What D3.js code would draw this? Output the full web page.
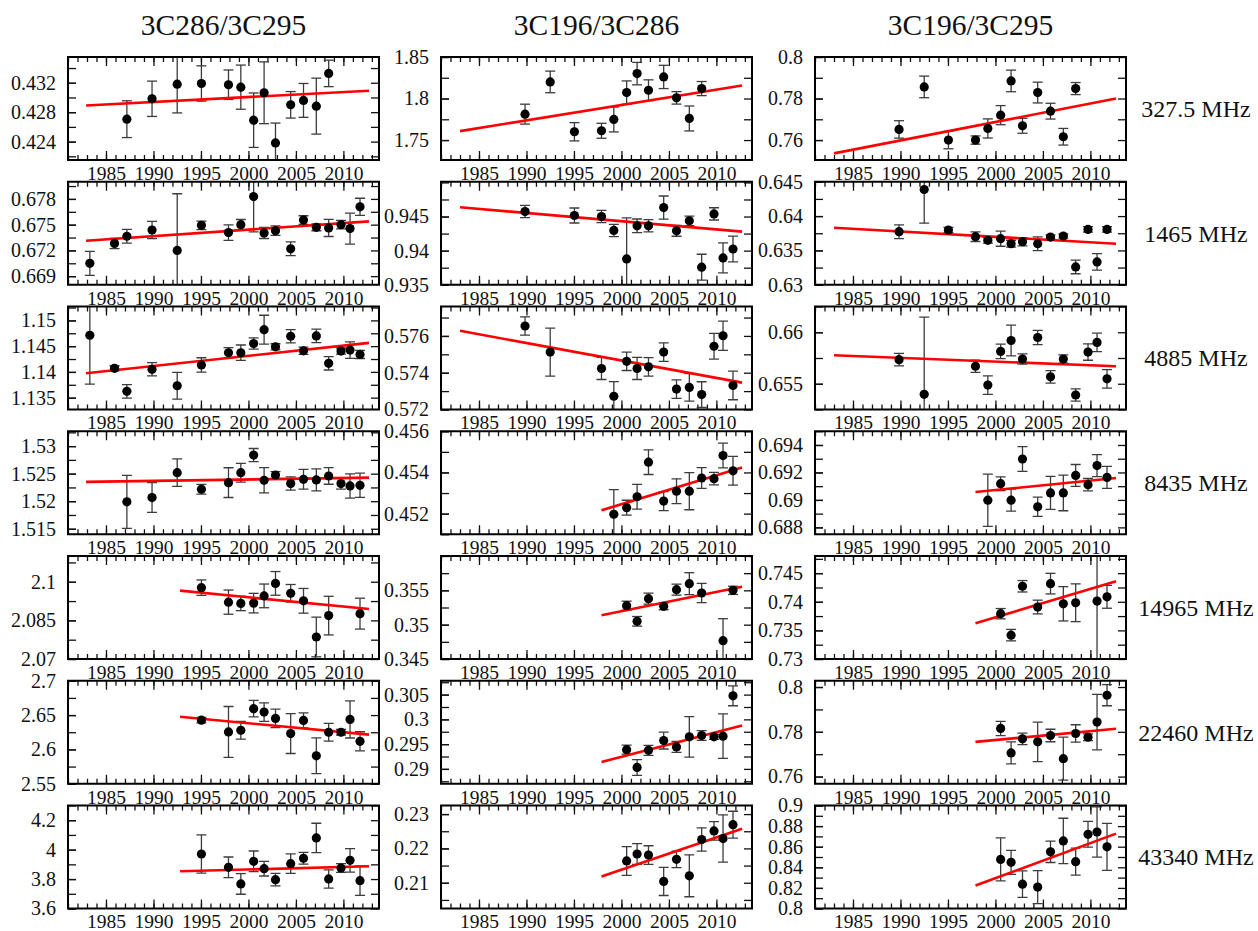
<!DOCTYPE html>
<html>
<head>
<meta charset="utf-8">
<script src="https://cdn.jsdelivr.net/npm/d3@7"></script>
<style>
  body { margin: 0; background: #fff; }
  svg { display: block; }
</style>
</head>
<body>
<script>
// Observing epochs (decimal year) shared by all panels
const epochs = [1983.3, 1985.9, 1987.2, 1989.85, 1992.5, 1995.05, 1997.9, 1999.2, 2000.55,
                2001.65, 2002.85, 2004.45, 2005.8, 2007.15, 2008.45, 2009.75, 2010.7, 2011.75];

const ratioNames = ["3C286/3C295", "3C196/3C286", "3C196/3C295"];
const freqLabels = ["327.5 MHz", "1465 MHz", "4885 MHz", "8435 MHz", "14965 MHz", "22460 MHz", "43340 MHz"];

const N = null;
// Flux density ratios, one row per frequency, one entry per epoch
const ratio286_295 = [
  [N, N, 0.42705, 0.42982, 0.4318, 0.4319, 0.43173, 0.4314, 0.42691, 0.43064, 0.42382, 0.429, 0.4296, 0.42882, 0.43327, N, N, N],
  [0.6705, 0.67281, 0.67365, 0.67438, 0.672, 0.67492, 0.67408, 0.675, 0.67827, 0.67404, 0.6743, 0.67219, 0.67554, 0.67469, 0.67462, 0.675, 0.67454, 0.67708],
  [1.14712, 1.1407, 1.13622, 1.14051, 1.13731, 1.14135, 1.14372, 1.14372, 1.14551, 1.1482, 1.14487, 1.14692, 1.1441, 1.14699, 1.14167, 1.14404, 1.14423, 1.1434],
  [N, N, 1.51988, 1.52066, 1.52518, 1.52217, 1.52337, 1.52518, 1.52837, 1.5238, 1.52476, 1.5232, 1.52398, 1.52386, 1.52458, 1.5232, 1.52277, 1.52289],
  [N, N, N, N, N, 2.0977, 2.09208, 2.09157, 2.0917, 2.09451, 2.09936, 2.09553, 2.0926, 2.07855, 2.08685, N, N, 2.08762],
  [N, N, N, N, N, 2.64265, 2.6255, 2.62794, 2.65931, 2.65441, 2.6451, 2.62304, 2.64216, 2.59069, 2.625, 2.625, 2.64363, 2.61176],
  [N, N, N, N, N, 3.97055, 3.88, 3.7667, 3.9207, 3.8709, 3.7962, 3.9049, 3.9411, 4.0793, 3.8007, 3.8754, 3.9275, 3.7894]
];
const err286_295 = [
  [N, N, 0.0025, 0.0024, 0.0039, 0.0024, 0.002, 0.003, 0.0037, 0.0042, 0.0027, 0.0018, 0.0023, 0.0038, 0.0018, N, N, N],
  [0.0014, 0.0006, 0.0008, 0.001, 0.0066, 0.0005, 0.0009, 0.0006, 0.0041, 0.00065, 0.00055, 0.0008, 0.0005, 0.0004, 0.001, 0.0005, 0.0018, 0.001],
  [0.0095, 0.0005, 0.0013, 0.0013, 0.0026, 0.0014, 0.001, 0.0015, 0.0011, 0.0028, 0.0006, 0.0013, 0.0007, 0.0013, 0.0013, 0.0006, 0.0016, 0.0008],
  [N, N, 0.0048, 0.0027, 0.0025, 0.0009, 0.0027, 0.0017, 0.0012, 0.0023, 0.0006, 0.0012, 0.0018, 0.002, 0.0015, 0.001, 0.0022, 0.0022],
  [N, N, N, N, N, 0.003, 0.0047, 0.0028, 0.0038, 0.0046, 0.0046, 0.0034, 0.0048, 0.0077, 0.0075, N, N, 0.006],
  [N, N, N, N, N, 0.004, 0.037, 0.013, 0.012, 0.0135, 0.0135, 0.029, 0.011, 0.026, 0.013, 0.004, 0.027, 0.014],
  [N, N, N, N, N, 0.13, 0.07, 0.07, 0.07, 0.05, 0.043, 0.066, 0.04, 0.1, 0.062, 0.03, 0.08, 0.1]
];

const ratio196_286 = [
  [N, N, N, 1.7812, 1.82, 1.76, 1.7612, 1.7748, 1.8072, 1.83, 1.81, 1.826, 1.8008, 1.776, 1.812, N, N, N],
  [N, N, N, 0.94573, N, 0.94515, 0.945, 0.94296, 0.93879, 0.94364, 0.94364, 0.94631, 0.94291, 0.94437, 0.93757, 0.94539, 0.93893, 0.94024],
  [N, N, N, 0.57654, 0.57512, N, 0.57423, 0.57272, 0.57462, 0.57423, 0.57432, 0.57512, 0.57311, 0.5732, 0.57281, 0.57544, 0.57601, 0.57331],
  [N, N, N, N, N, N, N, 0.45197, 0.45229, 0.45282, 0.4545, 0.45261, 0.45309, 0.45309, 0.45373, 0.4537, 0.45482, 0.45408],
  [N, N, N, N, N, N, N, N, 0.35277, 0.35049, 0.35379, 0.35267, 0.3551, 0.35597, 0.35461, N, 0.34767, 0.355],
  [N, N, N, N, N, N, N, N, 0.29389, 0.29029, 0.29375, 0.29572, 0.29443, 0.29647, 0.29674, 0.29647, 0.29661, 0.30475],
  [N, N, N, N, N, N, N, N, 0.21635, 0.21837, 0.21808, 0.21038, 0.21683, 0.21202, 0.2226, 0.2251, 0.22288, 0.22692]
];
const err196_286 = [
  [N, N, N, 0.012, 0.013, 0.011, 0.009, 0.015, 0.014, 0.0135, 0.0125, 0.014, 0.0075, 0.015, 0.0085, N, N, N],
  [N, N, N, 0.0009, N, 0.0011, 0.0009, 0.0009, 0.006, 0.001, 0.0009, 0.0017, 0.0008, 0.0007, 0.0019, 0.0009, 0.0022, 0.0019],
  [N, N, N, 0.0005, 0.0013, N, 0.0006, 0.0008, 0.0005, 0.0006, 0.0005, 0.0005, 0.0005, 0.00075, 0.0007, 0.0007, 0.0008, 0.00078],
  [N, N, N, N, N, N, N, 0.0012, 0.00036, 0.0006, 0.0006, 0.00046, 0.0006, 0.0009, 0.0005, 0.0003, 0.0006, 0.0007],
  [N, N, N, N, N, N, N, N, 0.00065, 0.0007, 0.0008, 0.0005, 0.0008, 0.0016, 0.0014, N, 0.0032, 0.0006],
  [N, N, N, N, N, N, N, N, 0.0009, 0.0016, 0.001, 0.0017, 0.0011, 0.0041, 0.001, 0.0005, 0.0045, 0.002],
  [N, N, N, N, N, N, N, N, 0.0042, 0.003, 0.0027, 0.0041, 0.0024, 0.0061, 0.0034, 0.0027, 0.0069, 0.0039]
];

const ratio196_295 = [
  [N, N, N, 0.76512, 0.7856, 0.76, 0.76, 0.7656, 0.772, 0.78848, 0.76688, 0.78288, 0.77392, 0.7616, 0.7848, N, N, N],
  [N, N, N, 0.63773, 0.64387, 0.63797, 0.637, 0.63647, 0.63671, 0.63598, 0.63627, 0.63598, 0.63695, 0.6371, 0.6326, 0.63806, 0.63332, 0.63806],
  [N, N, N, 0.65734, 0.65397, N, 0.6567, 0.65487, 0.65814, 0.6592, 0.6574, 0.65949, 0.65567, 0.6574, 0.65391, 0.65808, 0.65901, 0.65548],
  [N, N, N, N, N, N, N, 0.68998, 0.69118, 0.68998, 0.69298, 0.6895, 0.69051, 0.69051, 0.69178, 0.69111, 0.6925, 0.69164],
  [N, N, N, N, N, N, N, N, 0.73792, 0.73417, 0.74271, 0.73908, 0.74317, 0.73965, 0.73983, N, 0.74012, 0.74087],
  [N, N, N, N, N, N, N, N, 0.7815, 0.77056, 0.77685, 0.77551, 0.77835, 0.76801, 0.77925, 0.7776, 0.78434, 0.79633],
  [N, N, N, N, N, N, N, N, 0.84769, 0.84481, 0.82365, 0.82077, 0.85506, 0.86564, 0.84545, 0.87205, 0.87429, 0.85987]
];
const err196_295 = [
  [N, N, N, 0.0042, 0.0052, 0.0042, 0.002, 0.0046, 0.0046, 0.0052, 0.0036, 0.005, 0.0038, 0.004, 0.0029, N, N, N],
  [N, N, N, 0.001, 0.0049, 0.0004, 0.0007, 0.0004, 0.0011, 0.0005, 0.0006, 0.001, 0.0003, 0.0003, 0.001, 0.0004, 0.0012, 0.0004],
  [N, N, N, 0.0006, 0.0075, N, 0.0006, 0.0009, 0.0007, 0.0015, 0.0005, 0.0007, 0.0006, 0.0004, 0.0006, 0.0008, 0.0009, 0.0009],
  [N, N, N, N, N, N, N, 0.0019, 0.0005, 0.0008, 0.0009, 0.0007, 0.0012, 0.0013, 0.0008, 0.00045, 0.0008, 0.0008],
  [N, N, N, N, N, N, N, N, 0.0009, 0.001, 0.001, 0.0012, 0.0018, 0.003, 0.0033, N, 0.012, 0.002],
  [N, N, N, N, N, N, N, N, 0.0032, 0.0049, 0.0026, 0.0088, 0.0028, 0.0096, 0.0039, 0.0015, 0.0124, 0.0047],
  [N, N, N, N, N, N, N, N, 0.0208, 0.0117, 0.0128, 0.016, 0.0104, 0.022, 0.0131, 0.0125, 0.0244, 0.0228]
];

// Linear fits: [start year, start ratio, end year, end ratio]
const fit286_295 = [
  [1982.9, 0.42891, 2012.7, 0.43091],
  [1982.9, 0.67312, 2012.7, 0.67538],
  [1982.9, 1.13974, 2012.7, 1.14564],
  [1982.9, 1.5235, 2012.7, 1.52428],
  [1992.8, 2.09655, 2012.7, 2.0894],
  [1992.8, 2.64755, 2012.7, 2.62157],
  [1992.8, 3.8528, 2012.7, 3.8868]
];
const fit196_286 = [
  [1983, 1.7608, 2012.7, 1.8156],
  [1983, 0.94636, 2012.7, 0.94279],
  [1983, 0.57628, 2012.7, 0.57346],
  [1997.9, 0.45216, 2012.7, 0.45424],
  [1997.9, 0.35136, 2012.7, 0.35551],
  [1997.9, 0.29138, 2012.7, 0.29876],
  [1997.9, 0.21183, 2012.7, 0.22571]
];
const fit196_295 = [
  [1983, 0.7536, 2012.7, 0.78],
  [1983, 0.63831, 2012.7, 0.63598],
  [1983, 0.65776, 2012.7, 0.6567],
  [1997.9, 0.69058, 2012.7, 0.69159],
  [1997.9, 0.73625, 2012.7, 0.74358],
  [1997.9, 0.77551, 2012.7, 0.78135],
  [1997.9, 0.82237, 2012.7, 0.87269]
];

// Y ranges, labelled ticks and minor tick step per panel
const yRange286_295 = [[0.4215, 0.4355], [0.668, 0.680], [1.1327, 1.1527], [1.514, 1.5327], [2.07, 2.11], [2.55, 2.70], [3.6, 4.3]];
const yTicks286_295 = [[0.424, 0.428, 0.432], [0.669, 0.672, 0.675, 0.678], [1.135, 1.14, 1.145, 1.15], [1.515, 1.52, 1.525, 1.53], [2.07, 2.085, 2.1], [2.55, 2.6, 2.65, 2.7], [3.6, 3.8, 4, 4.2]];
const yStep286_295 = [0.002, 0.0015, 0.0025, 0.0025, 0.0075, 0.025, 0.1];

const yRange196_286 = [[1.726, 1.85], [0.935, 0.9501], [0.572, 0.5776], [0.451, 0.456], [0.345, 0.360], [0.287, 0.3078], [0.2025, 0.2325]];
const yTicks196_286 = [[1.75, 1.8, 1.85], [0.935, 0.94, 0.945], [0.572, 0.574, 0.576], [0.452, 0.454, 0.456], [0.345, 0.35, 0.355], [0.29, 0.295, 0.3, 0.305], [0.21, 0.22, 0.23]];
const yStep196_286 = [0.025, 0.0025, 0.001, 0.001, 0.0025, 0.0025, 0.005];

const yRange196_295 = [[0.7504, 0.80], [0.630, 0.645], [0.6525, 0.6625], [0.6875, 0.695], [0.73, 0.748], [0.7568, 0.8028], [0.8, 0.9]];
const yTicks196_295 = [[0.76, 0.78, 0.8], [0.63, 0.635, 0.64, 0.645], [0.655, 0.66], [0.688, 0.69, 0.692, 0.694], [0.73, 0.735, 0.74, 0.745], [0.76, 0.78, 0.8], [0.8, 0.82, 0.84, 0.86, 0.88, 0.9]];
const yStep196_295 = [0.01, 0.0025, 0.0025, 0.001, 0.0025, 0.01, 0.01];

const yearRange = [1981, 2013.75];
const yearLabels = [1985, 1990, 1995, 2000, 2005, 2010];

// ---- drawing ----
const W = 1258, H = 931;
const colLeft = [68, 441, 815];
const pw = 311, ph = 103;
const rowTop = d3.range(7).map(i => 57 + i * 124.75);
const FONT = "'Liberation Serif', 'Times New Roman', serif";

const columns = [
  { vals: ratio286_295, errs: err286_295, fits: fit286_295, ranges: yRange286_295, ticks: yTicks286_295, steps: yStep286_295 },
  { vals: ratio196_286, errs: err196_286, fits: fit196_286, ranges: yRange196_286, ticks: yTicks196_286, steps: yStep196_286 },
  { vals: ratio196_295, errs: err196_295, fits: fit196_295, ranges: yRange196_295, ticks: yTicks196_295, steps: yStep196_295 }
];

const svg = d3.select("body").append("svg")
  .attr("width", W).attr("height", H)
  .style("font-family", FONT);
svg.append("rect").attr("width", W).attr("height", H).attr("fill", "#fff");

const x = d3.scaleLinear().domain(yearRange).range([0, pw]);
const yearMinor = d3.range(Math.ceil(yearRange[0]), Math.floor(yearRange[1]) + 1);

function minorTicks(range, step) {
  const k0 = Math.ceil(range[0] / step - 1e-6), k1 = Math.floor(range[1] / step + 1e-6);
  return d3.range(k0, k1 + 1).map(k => +(k * step).toFixed(6));
}

function styleAxis(g) {
  g.select(".domain").remove();
  g.selectAll(".tick line").attr("stroke", "#111").attr("stroke-width", 1.3);
  g.selectAll(".tick text").attr("fill", "#111").style("font-family", FONT);
}

columns.forEach((col, ci) => {
  svg.append("text")
    .attr("x", colLeft[ci] + pw / 2).attr("y", 35)
    .attr("text-anchor", "middle")
    .attr("fill", "#111")
    .style("font-size", "29.5px")
    .text(ratioNames[ci]);

  col.vals.forEach((vals, ri) => {
    const g = svg.append("g").attr("transform", `translate(${colLeft[ci]},${rowTop[ri]})`);
    const y = d3.scaleLinear().domain(col.ranges[ri]).range([ph, 0]);
    const ticksMinor = minorTicks(col.ranges[ri], col.steps[ri]);

    // axes: ticks point inward on all four sides
    g.append("g").call(d3.axisLeft(y).tickValues(ticksMinor).tickSize(-8).tickFormat(""))
      .call(styleAxis);
    g.append("g").call(d3.axisLeft(y).tickValues(col.ticks[ri]).tickSize(-8).tickPadding(12).tickFormat(d => String(d)))
      .call(styleAxis).selectAll("text").style("font-size", "20px");
    g.append("g").attr("transform", `translate(${pw},0)`)
      .call(d3.axisRight(y).tickValues(ticksMinor).tickSize(-8).tickFormat(""))
      .call(styleAxis);

    g.append("g").attr("transform", `translate(0,${ph})`)
      .call(d3.axisBottom(x).tickValues(yearMinor).tickSize(-5).tickFormat(""))
      .call(styleAxis);
    g.append("g").attr("transform", `translate(0,${ph})`)
      .call(d3.axisBottom(x).tickValues(yearLabels).tickSize(-9).tickPadding(6).tickFormat(d3.format("d")))
      .call(styleAxis).selectAll("text").style("font-size", "19.5px");
    g.append("g")
      .call(d3.axisTop(x).tickValues(yearMinor).tickSize(-5).tickFormat(""))
      .call(styleAxis);
    g.append("g")
      .call(d3.axisTop(x).tickValues(yearLabels).tickSize(-9).tickFormat(""))
      .call(styleAxis);

    // plot area clipping
    const clipId = `clip-${ci}-${ri}`;
    g.append("clipPath").attr("id", clipId)
      .append("rect").attr("width", pw).attr("height", ph);
    const plot = g.append("g").attr("clip-path", `url(#${clipId})`);

    const pts = epochs.map((t, i) => ({ t, v: vals[i], e: col.errs[ri][i] }))
      .filter(d => d.v !== null);

    // error bars
    const eb = plot.append("g").attr("stroke", "#3c3c3c").attr("stroke-width", 1.3);
    eb.selectAll("line.v").data(pts).join("line").attr("class", "v")
      .attr("x1", d => x(d.t)).attr("x2", d => x(d.t))
      .attr("y1", d => y(d.v - d.e)).attr("y2", d => y(d.v + d.e));
    eb.selectAll("line.top").data(pts).join("line").attr("class", "top")
      .attr("x1", d => x(d.t) - 5).attr("x2", d => x(d.t) + 5)
      .attr("y1", d => y(d.v + d.e)).attr("y2", d => y(d.v + d.e));
    eb.selectAll("line.bot").data(pts).join("line").attr("class", "bot")
      .attr("x1", d => x(d.t) - 5).attr("x2", d => x(d.t) + 5)
      .attr("y1", d => y(d.v - d.e)).attr("y2", d => y(d.v - d.e));

    // linear fit
    const f = col.fits[ri];
    plot.append("path")
      .datum([[f[0], f[1]], [f[2], f[3]]])
      .attr("fill", "none").attr("stroke", "#ff0000").attr("stroke-width", 2.6)
      .attr("d", d3.line().x(d => x(d[0])).y(d => y(d[1])));

    // measurements
    plot.selectAll("circle").data(pts).join("circle")
      .attr("cx", d => x(d.t)).attr("cy", d => y(d.v)).attr("r", 4.6)
      .attr("fill", "#000");

    // frame
    g.append("rect").attr("width", pw).attr("height", ph)
      .attr("fill", "none").attr("stroke", "#000").attr("stroke-width", 2);

    if (ci === 2) {
      svg.append("text")
        .attr("x", 1196).attr("y", rowTop[ri] + ph / 2)
        .attr("dy", "0.35em")
        .attr("text-anchor", "middle")
        .attr("fill", "#111")
        .style("font-size", "24px")
        .text(freqLabels[ri]);
    }
  });
});
</script>
</body>
</html>
